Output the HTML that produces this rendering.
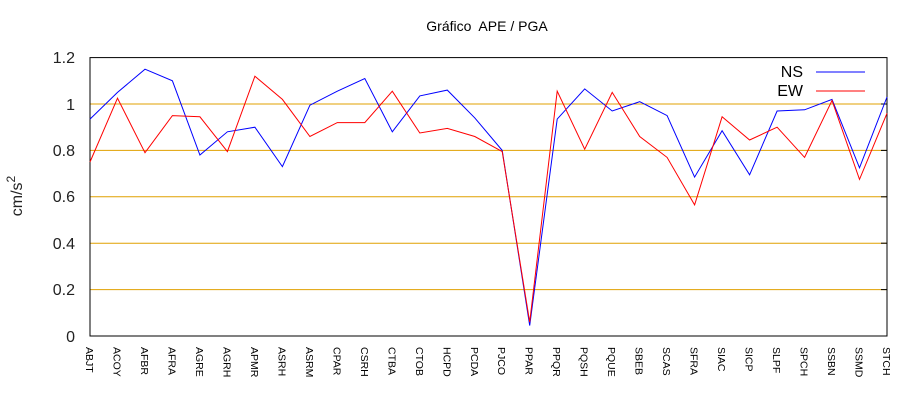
<!DOCTYPE html>
<html><head><meta charset="utf-8"><style>body{margin:0;background:#fff}svg{display:block}</style></head><body>
<svg width="920" height="400" xmlns="http://www.w3.org/2000/svg" font-family="Liberation Sans, sans-serif">
<rect width="920" height="400" fill="#fff"/>
<text x="487" y="31" font-size="14" text-anchor="middle">Gráfico&#160; APE / PGA</text>
<g stroke="#e0a000" stroke-width="1">
<line x1="90" y1="289.6" x2="887" y2="289.6"/>
<line x1="90" y1="243.2" x2="887" y2="243.2"/>
<line x1="90" y1="196.8" x2="887" y2="196.8"/>
<line x1="90" y1="150.4" x2="887" y2="150.4"/>
<line x1="90" y1="104" x2="887" y2="104"/>
</g>
<g stroke="#000" stroke-width="1">
<line x1="881" y1="289.6" x2="887" y2="289.6"/><line x1="881" y1="243.2" x2="887" y2="243.2"/><line x1="881" y1="196.8" x2="887" y2="196.8"/><line x1="881" y1="150.4" x2="887" y2="150.4"/><line x1="881" y1="104" x2="887" y2="104"/>
</g>
<rect x="90" y="57.6" width="797" height="278.4" fill="none" stroke="#000" stroke-width="1"/>
<g font-size="16" text-anchor="end" fill="#222">
<text x="75" y="342">0</text><text x="75" y="295">0.2</text><text x="75" y="249">0.4</text><text x="75" y="202">0.6</text><text x="75" y="156">0.8</text><text x="75" y="110">1</text><text x="75" y="63">1.2</text>
</g>
<text transform="translate(22,196) rotate(-90)" font-size="16" text-anchor="middle" fill="#222">cm/s<tspan dy="-7" font-size="12">2</tspan></text>
<g id="xl" font-size="10.5" fill="#000"></g>
<polyline id="ns" fill="none" stroke="#0000ff" stroke-width="1"/>
<polyline id="ew" fill="none" stroke="#ff0000" stroke-width="1"/>
<text x="803" y="77" font-size="16" text-anchor="end">NS</text>
<line x1="816" y1="72" x2="865" y2="72" stroke="#0000ff"/>
<text x="803" y="96" font-size="16" text-anchor="end">EW</text>
<line x1="816" y1="91" x2="865" y2="91" stroke="#ff0000"/>
<script>
var L="ABJT ACOY AFBR AFRA AGRE AGRH APMR ASRH ASRM CPAR CSRH CTBA CTOB HCPD PCDA PJCO PPAR PPQR PQSH PQUE SBEB SCAS SFRA SIAC SICP SLPF SPCH SSBN SSMD STCH".split(" ");
var NS=[0.935,1.05,1.15,1.10,0.78,0.88,0.90,0.73,0.995,1.055,1.11,0.88,1.035,1.06,0.94,0.80,0.045,0.935,1.065,0.97,1.01,0.95,0.685,0.885,0.695,0.97,0.975,1.02,0.725,1.03];
var EW=[0.75,1.025,0.79,0.95,0.945,0.795,1.12,1.02,0.86,0.92,0.92,1.055,0.875,0.895,0.86,0.795,0.06,1.055,0.805,1.05,0.86,0.77,0.565,0.945,0.845,0.9,0.77,1.015,0.675,0.96];
var g=document.getElementById("xl"),ns="",ew="";
for(var i=0;i<30;i++){var x=90+i*797/29;
ns+=x.toFixed(1)+","+(336-NS[i]*232).toFixed(1)+" ";
ew+=x.toFixed(1)+","+(336-EW[i]*232).toFixed(1)+" ";
var t=document.createElementNS("http://www.w3.org/2000/svg","text");
t.setAttribute("transform","translate("+(x-4)+",347) rotate(90)");t.textContent=L[i];g.appendChild(t);}
document.getElementById("ns").setAttribute("points",ns);
document.getElementById("ew").setAttribute("points",ew);
</script>
</svg>
</body></html>
